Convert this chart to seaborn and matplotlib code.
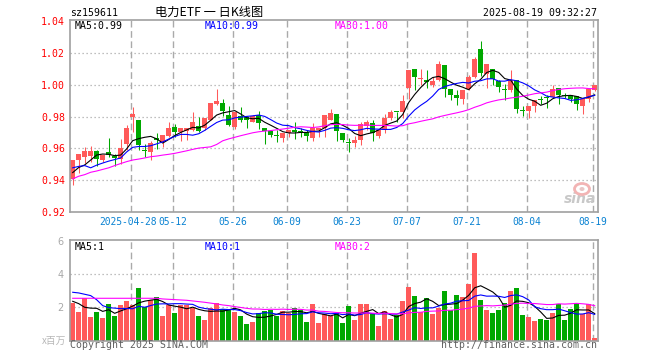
import numpy as np
import pandas as pd
import matplotlib
matplotlib.use("Agg")
import matplotlib.pyplot as plt
import matplotlib.transforms as mtransforms
from matplotlib.patches import Ellipse
import seaborn as sns

# ---------------- data ----------------
code_label = "sz159611"
title_text = "电力ETF 一 日K线图"
stamp_text = "2025-08-19 09:32:27"

holidays = ["2025-05-01", "2025-05-02", "2025-05-05", "2025-06-02"]
trade_days = pd.bdate_range("2025-04-14", "2025-08-19", freq="C", holidays=holidays)

tick_dates = ["2025-04-28", "2025-05-12", "2025-05-26", "2025-06-09", "2025-06-23",
              "2025-07-07", "2025-07-21", "2025-08-04", "2025-08-19"]
tick_labels = ["2025-04-28", "05-12", "05-26", "06-09", "06-23",
               "07-07", "07-21", "08-04", "08-19"]

opens = [0.9406, 0.9527, 0.9548, 0.9552, 0.9581, 0.9527, 0.9577, 0.9552, 0.9531, 0.9627,
         0.9798, 0.9777, 0.9583, 0.9579, 0.9665, 0.9642, 0.9679, 0.9735, 0.9704, 0.9710,
         0.9719, 0.9740, 0.9727, 0.9781, 0.9879, 0.9883, 0.9808, 0.9735, 0.9802, 0.9796,
         0.9765, 0.9810, 0.9731, 0.9710, 0.9679, 0.9667, 0.9694, 0.9712, 0.9712, 0.9702,
         0.9667, 0.9715, 0.9731, 0.9781, 0.9815, 0.9694, 0.9631, 0.9635, 0.9652, 0.9744,
         0.9760, 0.9677, 0.9715, 0.9794, 0.9831, 0.9829, 0.9979, 1.0102, 1.0035, 1.0031,
         1.0002, 1.0031, 1.0127, 0.9975, 0.9933, 0.9913, 0.9975, 1.0052, 1.0225, 1.0069,
         1.0100, 1.0023, 0.9975, 0.9965, 1.0031, 0.9835, 0.9833, 0.9865, 0.9902, 0.9915,
         0.9923, 0.9981, 0.9933, 0.9933, 0.9927, 0.9865, 0.9913, 0.9969]
highs = [0.9530, 0.9565, 0.9606, 0.9615, 0.9590, 0.9560, 0.9665, 0.9563, 0.9660, 0.9746,
         0.9860, 0.9777, 0.9627, 0.9648, 0.9694, 0.9683, 0.9765, 0.9756, 0.9731, 0.9731,
         0.9827, 0.9798, 0.9794, 0.9885, 0.9977, 0.9908, 0.9865, 0.9831, 0.9860, 0.9802,
         0.9810, 0.9835, 0.9731, 0.9710, 0.9719, 0.9698, 0.9719, 0.9765, 0.9731, 0.9715,
         0.9760, 0.9731, 0.9810, 0.9846, 0.9815, 0.9694, 0.9663, 0.9677, 0.9765, 0.9777,
         0.9777, 0.9725, 0.9819, 0.9844, 0.9831, 0.9933, 1.0094, 1.0102, 1.0102, 1.0094,
         1.0048, 1.0152, 1.0127, 0.9975, 0.9965, 0.9965, 1.0060, 1.0177, 1.0277, 1.0131,
         1.0100, 1.0031, 1.0006, 1.0094, 1.0031, 0.9865, 0.9865, 0.9906, 0.9927, 0.9933,
         1.0002, 0.9981, 0.9948, 0.9933, 0.9927, 0.9913, 0.9975, 1.0002]
lows = [0.9373, 0.9448, 0.9510, 0.9517, 0.9492, 0.9515, 0.9544, 0.9488, 0.9502, 0.9590,
        0.9704, 0.9590, 0.9544, 0.9527, 0.9594, 0.9610, 0.9673, 0.9673, 0.9648, 0.9650,
        0.9710, 0.9704, 0.9717, 0.9777, 0.9871, 0.9802, 0.9740, 0.9725, 0.9769, 0.9730,
        0.9765, 0.9723, 0.9627, 0.9673, 0.9642, 0.9642, 0.9673, 0.9658, 0.9669, 0.9648,
        0.9648, 0.9673, 0.9673, 0.9777, 0.9648, 0.9642, 0.9579, 0.9610, 0.9621, 0.9715,
        0.9648, 0.9663, 0.9694, 0.9777, 0.9765, 0.9794, 0.9913, 0.9965, 0.9996, 0.9981,
        0.9985, 1.0023, 0.9923, 0.9902, 0.9871, 0.9877, 0.9969, 1.0044, 1.0058, 0.9981,
        0.9996, 0.9954, 0.9906, 0.9954, 0.9823, 0.9802, 0.9794, 0.9829, 0.9877, 0.9856,
        0.9919, 0.9877, 0.9915, 0.9892, 0.9840, 0.9819, 0.9892, 0.9960]
closes = [0.9527, 0.9565, 0.9583, 0.9583, 0.9535, 0.9558, 0.9556, 0.9540, 0.9602, 0.9731,
          0.9815, 0.9619, 0.9583, 0.9631, 0.9652, 0.9683, 0.9731, 0.9706, 0.9731, 0.9731,
          0.9765, 0.9710, 0.9794, 0.9885, 0.9896, 0.9833, 0.9746, 0.9831, 0.9777, 0.9777,
          0.9802, 0.9760, 0.9708, 0.9683, 0.9679, 0.9698, 0.9719, 0.9706, 0.9702, 0.9677,
          0.9731, 0.9731, 0.9810, 0.9825, 0.9710, 0.9652, 0.9631, 0.9652, 0.9756, 0.9765,
          0.9694, 0.9715, 0.9794, 0.9829, 0.9829, 0.9898, 1.0094, 1.0048, 1.0046, 1.0015,
          1.0027, 1.0131, 0.9975, 0.9938, 0.9917, 0.9965, 1.0052, 1.0162, 1.0077, 1.0131,
          1.0035, 0.9985, 0.9969, 1.0031, 0.9848, 0.9835, 0.9865, 0.9906, 0.9902, 0.9915,
          0.9975, 0.9935, 0.9931, 0.9913, 0.9881, 0.9913, 0.9975, 1.0002]
# volume in millions of shares
volumes = [2.28, 1.72, 2.56, 1.42, 1.72, 1.36, 2.20, 1.50, 2.14, 2.38,
           2.14, 3.16, 2.02, 2.44, 2.62, 1.48, 2.14, 1.66, 2.14, 2.14,
           1.96, 1.48, 1.24, 1.96, 2.26, 1.90, 1.86, 1.72, 1.48, 1.00,
           1.12, 1.66, 1.78, 1.84, 1.48, 1.78, 1.66, 1.96, 1.84, 1.12,
           2.20, 1.06, 1.60, 1.45, 1.66, 1.06, 2.08, 1.24, 2.20, 2.20,
           1.60, 0.88, 1.78, 1.30, 1.54, 2.38, 3.22, 2.68, 1.72, 2.56,
           1.60, 1.96, 2.98, 1.84, 2.74, 2.62, 3.40, 5.25, 2.44, 1.84,
           1.66, 1.84, 2.26, 2.98, 3.16, 1.54, 1.42, 1.18, 1.30, 1.24,
           1.66, 2.20, 1.24, 1.90, 2.26, 1.60, 2.20, 0.16]

# moving-average values at the start of the window (history before the window)
price_ma5_head = [0.9448, 0.9480, 0.9496, 0.9527]
price_ma10_head = [0.9478, 0.9487, 0.9492, 0.9478, 0.9495, 0.9508, 0.9520, 0.9530, 0.9540]
price_ma30_head = [0.9408, 0.9425, 0.9435, 0.9450, 0.9458, 0.9468, 0.9478, 0.9492, 0.9505, 0.9517,
                   0.9527, 0.9533, 0.9540, 0.9548, 0.9552, 0.9558, 0.9563, 0.9569, 0.9577, 0.9585,
                   0.9594, 0.9602, 0.9606, 0.9610, 0.9625, 0.9648, 0.9660, 0.9670, 0.9680]
vol_ma5_head = [2.36, 2.22, 2.00, 1.95]
vol_ma10_head = [2.90, 2.86, 2.78, 2.70, 2.45, 2.10, 1.98, 1.95, 1.92]
vol_ma30_head = [2.54, 2.54, 2.54, 2.54, 2.54, 2.54, 2.54, 2.54, 2.54, 2.54,
                 2.54, 2.54, 2.54, 2.54, 2.54, 2.50, 2.48, 2.46, 2.44, 2.42,
                 2.38, 2.34, 2.30, 2.25, 2.20, 2.14, 2.10, 2.04, 1.99]

price_legend = ["MA5:0.99", "MA10:0.99", "MA30:1.00"]
vol_legend = ["MA5:1", "MA10:1", "MA30:2"]

# ---------------- style ----------------
UP = "#ff5a5a"
DOWN = "#00a800"
MA_COLORS = ["#000000", "#0000ff", "#ff00ff"]
GRID = "#aaaaaa"
MONO = "DejaVu Sans Mono"
CJK = ["Noto Sans CJK SC", "DejaVu Sans"]

plt.rcParams["font.family"] = ["DejaVu Sans"]

def moving(values, n, head):
    s = pd.Series(values, dtype=float).rolling(n).mean()
    s.iloc[:len(head)] = head
    return s.values

df = pd.DataFrame({"day": trade_days, "open": opens, "high": highs, "low": lows,
                   "close": closes, "vol": volumes})
df["idx"] = np.arange(len(df))
df["dir"] = np.where(df["close"] > df["open"], "up", "down")
palette = {"up": UP, "down": DOWN}

df["ma5"] = moving(closes, 5, price_ma5_head)
df["ma10"] = moving(closes, 10, price_ma10_head)
df["ma30"] = moving(closes, 30, price_ma30_head)
df["vma5"] = moving(volumes, 5, vol_ma5_head)
df["vma10"] = moving(volumes, 10, vol_ma10_head)
df["vma30"] = moving(volumes, 30, vol_ma30_head)

tick_idx = [int(np.where(trade_days == pd.Timestamp(d))[0][0]) for d in tick_dates]
grid_x = [t - 0.33 for t in tick_idx]

W, H = 660, 360
fig = plt.figure(figsize=(6.6, 3.6), dpi=100)
fig.patch.set_facecolor("white")
L, R = 70, 597.7
ax = fig.add_axes([L / W, 1 - 212 / H, (R - L) / W, 192 / H])
axv = fig.add_axes([L / W, 1 - 340.7 / H, (R - L) / W, 100.7 / H])

for a in (ax, axv):
    a.set_xlim(-0.45, 87.5)
    for s in a.spines.values():
        s.set_color("#a0a0a0")
        s.set_linewidth(1.2)
    for gx in grid_x:
        a.axvline(gx, color=GRID, lw=1.0, ls=(0, (4.8, 2.6)), zorder=0)

# ---- price panel ----
ax.set_ylim(0.92, 1.0408)
for gy in [0.94, 0.96, 0.98, 1.00, 1.02]:
    ax.axhline(gy, color=GRID, lw=0.9, ls=(0, (1, 2.2)), zorder=0)

body_bottom = np.minimum(df["open"], df["close"])
body_h = np.maximum(np.abs(df["close"] - df["open"]), 0.0007)
colors = df["dir"].map(palette)
ax.vlines(df["idx"], df["low"], df["high"], colors=colors, lw=0.75, zorder=2)
ax.bar(df["idx"], body_h, bottom=body_bottom, width=0.82, color=colors,
       linewidth=0, zorder=2)

for col, c in zip(["ma5", "ma10", "ma30"], MA_COLORS):
    sns.lineplot(data=df, x="idx", y=col, color=c, lw=0.8, ax=ax, zorder=3,
                 estimator=None, sort=False)

yt = [0.92, 0.94, 0.96, 0.98, 1.00, 1.02, 1.04]
ax.set_yticks(yt)
ax.set_yticklabels([f"{v:.2f}" for v in yt], fontfamily=MONO, fontsize=7.1, color="#ff0000")
ax.set_xticks([])
ax.tick_params(axis="both", length=0)
ax.tick_params(axis="y", pad=3.5)
ax.set_xlabel("")
ax.set_ylabel("")

# date labels under the price panel, centred on the dashed lines
blend = mtransforms.blended_transform_factory(ax.transData, ax.transAxes)
for k, (gx, lab) in enumerate(zip(grid_x, tick_labels)):
    shift = -0.45 if k == 0 else 0.0
    ax.text(gx + shift, -0.052, lab, transform=blend, fontfamily=MONO, fontsize=6.9,
            color="#0a82d2", ha="center", va="center")

# ---- volume panel ----
sns.barplot(data=df, x="idx", y="vol", hue="dir", palette=palette, native_scale=True,
            dodge=False, width=0.85, saturation=1, errorbar=None, legend=False,
            linewidth=0, ax=axv, zorder=2)
for col, c in zip(["vma5", "vma10", "vma30"], MA_COLORS):
    sns.lineplot(data=df, x="idx", y=col, color=c, lw=0.8, ax=axv, zorder=3,
                 estimator=None, sort=False)
axv.set_xlim(-0.45, 87.5)
axv.set_ylim(0, 6.03)
for gy in [2, 4]:
    axv.axhline(gy, color=GRID, lw=0.9, ls=(0, (1, 2.2)), zorder=0)
axv.set_yticks([2, 4, 6])
axv.set_yticklabels(["2", "4", "6"], fontsize=7, color="#a8a8a8")
axv.set_xticks([])
axv.tick_params(axis="both", length=0)
axv.tick_params(axis="y", pad=4.5)
axv.set_xlabel("")
axv.set_ylabel("")

# ---- texts ----
def ftext(x, y, s, **kw):
    fig.text(x / W, 1 - y / H, s, **kw)

ftext(70, 13, code_label, fontfamily=MONO, fontsize=7.1, ha="left", va="center")
ftext(209, 12.7, title_text, fontfamily=CJK, fontsize=8.8, ha="center", va="center")
ftext(597, 13, stamp_text, fontfamily=MONO, fontsize=7.1, ha="right", va="center")
for xpos, s, c in zip([75, 205, 335], price_legend, MA_COLORS):
    ftext(xpos, 26, s, fontfamily=MONO, fontsize=7.1, color=c, ha="left", va="center")
for xpos, s, c in zip([75, 205, 335], vol_legend, MA_COLORS):
    ftext(xpos, 246.7, s, fontfamily=MONO, fontsize=7.1, color=c, ha="left", va="center")
ftext(66, 341, "x百万", fontfamily=CJK, fontsize=7, color="#b8b8b8", ha="right", va="center")
ftext(70, 345.5, "Copyright 2025 SINA.COM", fontfamily=MONO, fontsize=7.1,
      color="#606060", ha="left", va="center")
ftext(597, 345.5, "http://finance.sina.com.cn", fontfamily=MONO, fontsize=7.1,
      color="#606060", ha="right", va="center")

# sina watermark (eye logo + word)
fig.patches.append(Ellipse((582 / W, 1 - 189 / H), 15 / W, 11 / H, transform=fig.transFigure,
                           facecolor="none", edgecolor="#f2b4b4", lw=2.0, zorder=5))
fig.patches.append(Ellipse((582 / W, 1 - 189 / H), 5 / W, 4 / H, transform=fig.transFigure,
                           facecolor="#e8c6c6", edgecolor="none", zorder=5))
ftext(580, 199, "sina", fontsize=10, fontweight="bold", fontstyle="italic",
      color="#c8c8c8", ha="center", va="center")

fig.savefig("out.png", dpi=100, facecolor="white")
